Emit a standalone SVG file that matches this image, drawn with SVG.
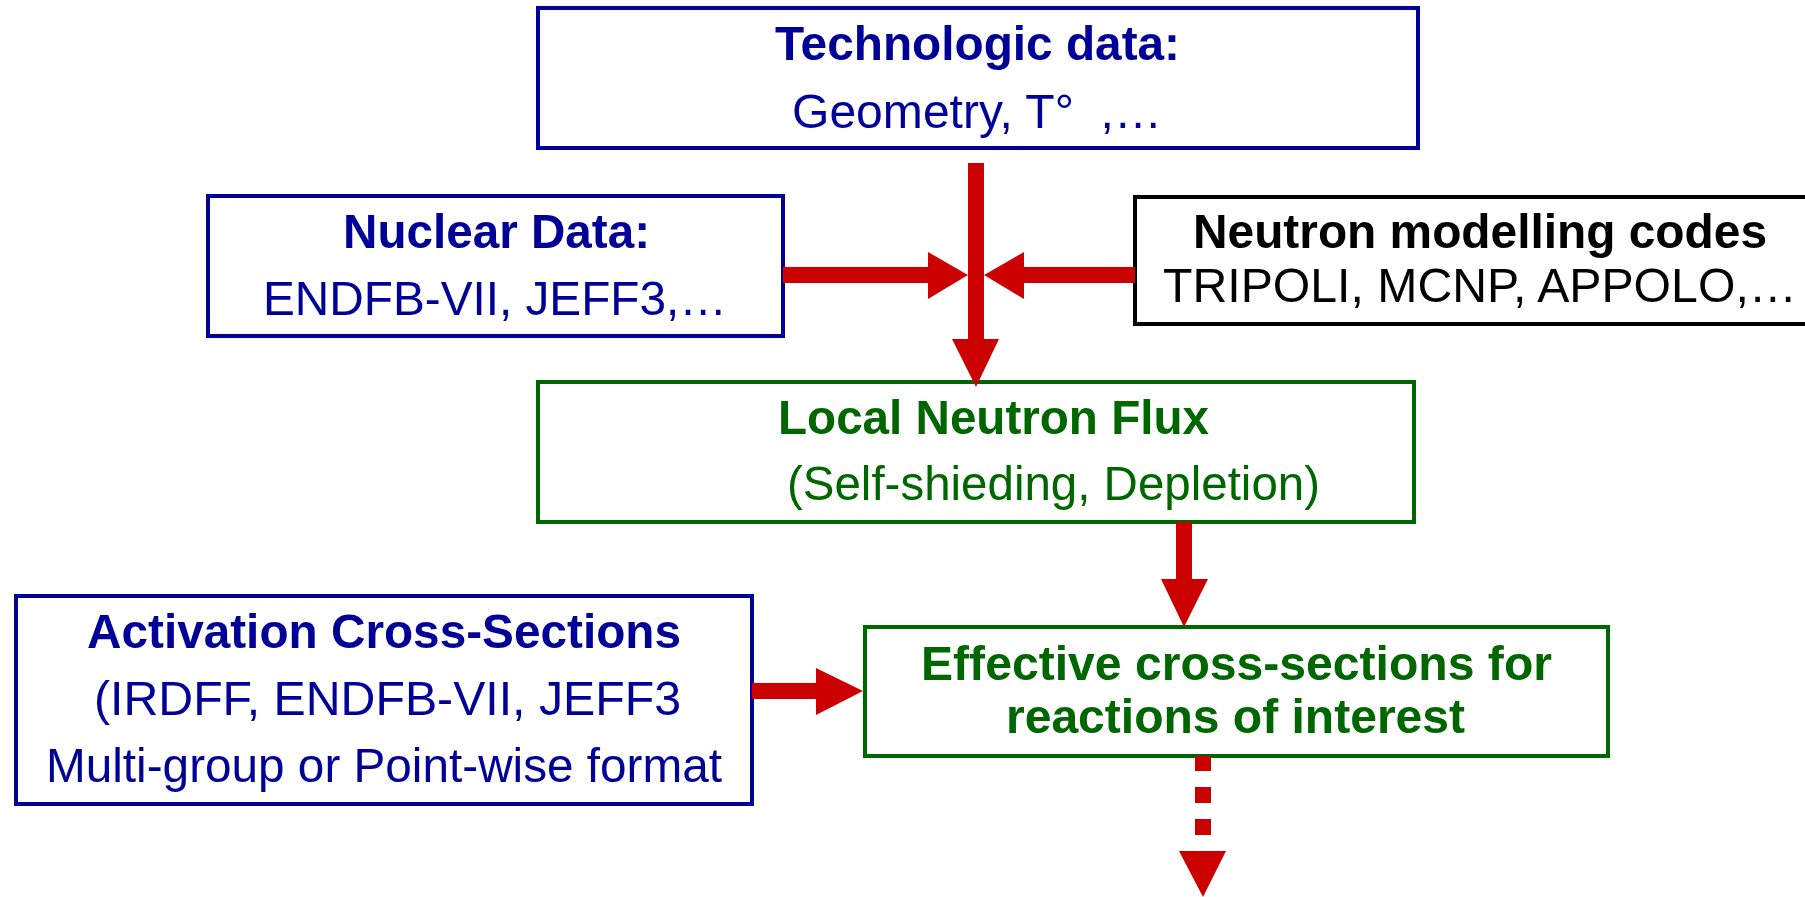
<svg xmlns="http://www.w3.org/2000/svg" width="1805" height="897" viewBox="0 0 1805 897">
  <style>
    .box { fill: #ffffff; stroke-width: 4; }
    .blue { stroke: #000099; }
    .green { stroke: #006600; }
    .black { stroke: #000000; }
    text { font-family: "Liberation Sans", Arial, sans-serif; font-size: 49px; white-space: pre; }
    .b { font-weight: bold; }
    .tb { fill: #000099; }
    .tg { fill: #006600; }
    .tk { fill: #000000; }
    .arrow { fill: #CC0000; }
  </style>
  <rect width="1805" height="897" fill="#ffffff"/>

  <g id="technologic">
    <rect class="box blue" x="538" y="8" width="880" height="140"/>
    <text class="b tb" x="775" y="60" textLength="405" lengthAdjust="spacingAndGlyphs">Technologic data:</text>
    <text class="tb" x="792" y="128" textLength="370" lengthAdjust="spacingAndGlyphs">Geometry, T°  ,…</text>
  </g>

  <g id="nuclear">
    <rect class="box blue" x="208" y="196" width="575" height="140"/>
    <text class="b tb" x="343" y="248" textLength="307" lengthAdjust="spacingAndGlyphs">Nuclear Data:</text>
    <text class="tb" x="263" y="315" textLength="464" lengthAdjust="spacingAndGlyphs">ENDFB-VII, JEFF3,…</text>
  </g>

  <g id="codes">
    <rect class="box black" x="1135" y="197" width="690" height="127"/>
    <text class="b tk" x="1193" y="248" textLength="574" lengthAdjust="spacingAndGlyphs">Neutron modelling codes</text>
    <text class="tk" x="1163" y="302" textLength="634" lengthAdjust="spacingAndGlyphs">TRIPOLI, MCNP, APPOLO,…</text>
  </g>

  <g id="flux">
    <rect class="box green" x="538" y="382" width="876" height="140"/>
    <text class="b tg" x="778" y="434" textLength="431" lengthAdjust="spacingAndGlyphs">Local Neutron Flux</text>
    <text class="tg" x="787" y="500" textLength="533" lengthAdjust="spacingAndGlyphs">(Self-shieding, Depletion)</text>
  </g>

  <g id="effective">
    <rect class="box green" x="865" y="627" width="743" height="129"/>
    <text class="b tg" x="921" y="680" textLength="631" lengthAdjust="spacingAndGlyphs">Effective cross-sections for</text>
    <text class="b tg" x="1006" y="733" textLength="459" lengthAdjust="spacingAndGlyphs">reactions of interest</text>
  </g>

  <g id="activation">
    <rect class="box blue" x="16" y="596" width="736" height="208"/>
    <text class="b tb" x="87" y="648" textLength="594" lengthAdjust="spacingAndGlyphs">Activation Cross-Sections</text>
    <text class="tb" x="94" y="715" textLength="587" lengthAdjust="spacingAndGlyphs">(IRDFF, ENDFB-VII, JEFF3</text>
    <text class="tb" x="46" y="782" textLength="676" lengthAdjust="spacingAndGlyphs">Multi-group or Point-wise format</text>
  </g>

  <g id="connectors">
    <!-- technologic -> flux -->
    <rect class="arrow" x="968" y="163" width="16" height="178"/>
    <polygon class="arrow" points="952,339 999,339 976,387"/>
    <!-- nuclear -> center -->
    <rect class="arrow" x="783" y="267" width="147" height="16"/>
    <polygon class="arrow" points="928,252 928,299 968,275"/>
    <!-- codes -> center -->
    <rect class="arrow" x="1022" y="267" width="113" height="16"/>
    <polygon class="arrow" points="1024,252 1024,299 984,275"/>
    <!-- flux -> effective -->
    <rect class="arrow" x="1176" y="522" width="16" height="59"/>
    <polygon class="arrow" points="1161,579 1208,579 1184,627"/>
    <!-- activation -> effective -->
    <rect class="arrow" x="752" y="683" width="66" height="16"/>
    <polygon class="arrow" points="816,668 816,715 863,691"/>
    <!-- effective -> (dashed) -->
    <rect class="arrow" x="1195" y="756" width="16" height="15"/>
    <rect class="arrow" x="1195" y="787" width="16" height="16"/>
    <rect class="arrow" x="1195" y="819" width="16" height="16"/>
    <polygon class="arrow" points="1179,851 1226,851 1203,897"/>
  </g>
</svg>
